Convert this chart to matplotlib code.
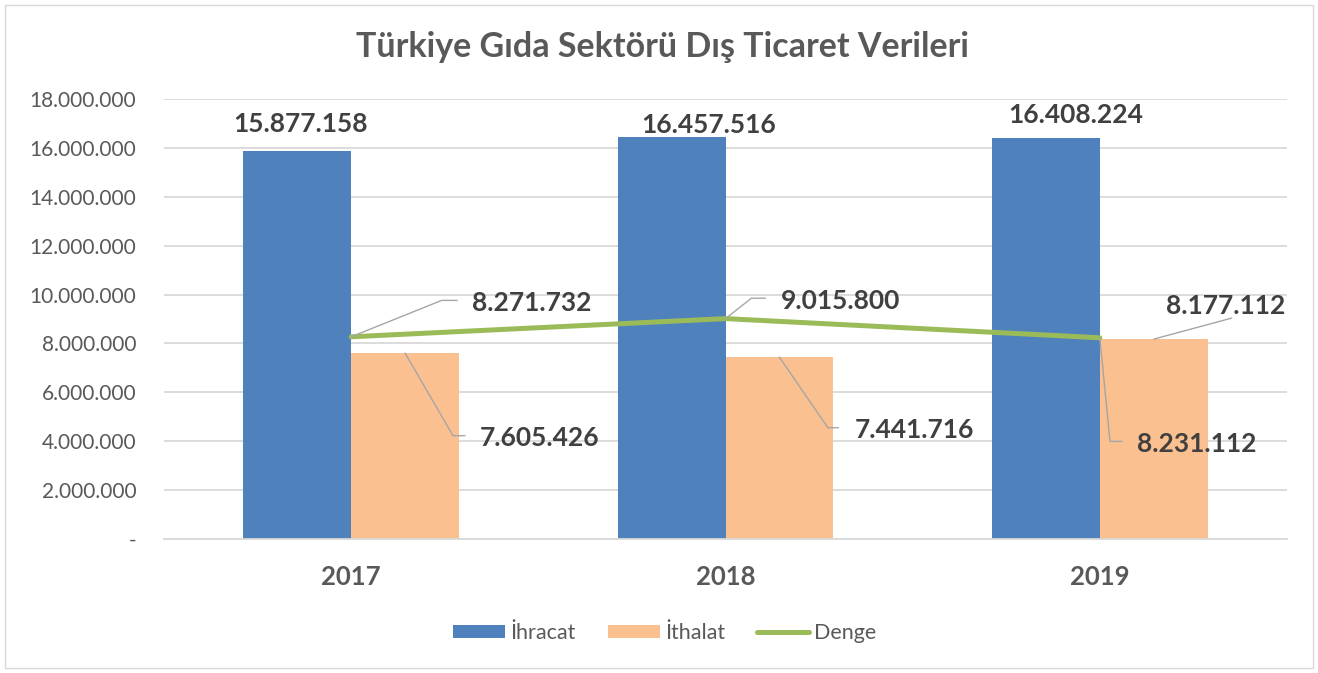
import math
import matplotlib
matplotlib.use('Agg')
import matplotlib.pyplot as plt
from matplotlib.patches import Rectangle
from matplotlib.ticker import FuncFormatter

plt.rcParams['font.family'] = ['Lato', 'DejaVu Sans']

# veriler
yillar = ['2017', '2018', '2019']
ihracat = [15877158, 16457516, 16408224]
ithalat = [7605426, 7441716, 8177112]
denge = [8271732, 9015800, 8231112]
y_ticks = [0, 2000000, 4000000, 6000000, 8000000, 10000000, 12000000, 14000000, 16000000, 18000000]

mavi = '#4f81bd'
turuncu = '#fac090'
yesil = '#9bbb59'
yazi = '#404040'
gri = '#595959'
cizgi = '#d9d9d9'


def nokta(v, pos=None):
    if v == 0:
        return '-'
    return f'{v:,.0f}'.replace(',', '.')


fig = plt.figure(figsize=(13.18, 6.73), dpi=100)
ax = fig.add_axes([164/1318, 134/673, 1123/1318, 440/673])

x = list(range(len(yillar)))
w = 0.288
b1 = ax.bar([i - w/2 for i in x], ihracat, w, color=mavi, label='İhracat', zorder=2)
b2 = ax.bar([i + w/2 for i in x], ithalat, w, color=turuncu, label='İthalat', zorder=2)
l1, = ax.plot(x, denge, color=yesil, lw=3.6, solid_capstyle='round', label='Denge', zorder=3)

ax.set_xlim(-0.5, 2.5)
ax.set_ylim(0, 18000000)
ax.set_yticks(y_ticks)
ax.yaxis.set_major_formatter(FuncFormatter(nokta))
ax.set_xticks(x, yillar)
ax.tick_params(axis='y', length=0, pad=20, labelsize=15, labelcolor=gri)
ax.tick_params(axis='x', length=0, pad=19, labelsize=18.5, labelcolor=gri)
for t in ax.get_xticklabels():
    t.set_fontweight('bold')
ax.yaxis.grid(True, color=cizgi, lw=1.3)
ax.set_axisbelow(True)
for s in ['top', 'right', 'left']:
    ax.spines[s].set_visible(False)
ax.spines['bottom'].set_color(cizgi)
ax.spines['bottom'].set_linewidth(1.3)

# ihracat etiketleri (piksel kaydırma, taban çizgisine göre)
ust_kayma = [(3, 19), (37, 4), (30, 15)]
for i, v in enumerate(ihracat):
    ax.annotate(nokta(v), (i - w/2, v), xytext=ust_kayma[i], textcoords='offset pixels',
                ha='center', va='baseline', fontsize=19, fontweight='bold', color=yazi)


def kilavuz(xy, metin, dx, dy, kx, ky, bosluk):
    aci = math.degrees(math.atan2(ky, kx))
    ax.annotate(metin, xy, xytext=(dx, dy - 2), textcoords='offset pixels',
                ha='left', va='center', fontsize=19, fontweight='bold', color=yazi,
                arrowprops=dict(arrowstyle='-', color='#a6a6a6', lw=1, relpos=(0, 0.6),
                                patchA=None, shrinkA=bosluk*0.72, shrinkB=0,
                                connectionstyle=f'angle,angleA=0,angleB={aci},rad=0'))


# denge etiketleri
kilavuz((0, denge[0]), nokta(denge[0]), 121, 36, 92, 37, 15)
kilavuz((1, denge[1]), nokta(denge[1]), 55, 20, 28, 22, 15)
kilavuz((2, denge[2]), nokta(denge[2]), 37, -104, 10, -102, 15)

# ithalat etiketleri
kilavuz((0 + w/2, ithalat[0]), nokta(ithalat[0]), 75, -83, 47, -81, 15)
kilavuz((1 + w/2, ithalat[1]), nokta(ithalat[1]), 75, -71, 48, -70, 16)
ax.annotate(nokta(ithalat[2]), (2 + w/2, ithalat[2]), xytext=(72, 33), textcoords='offset pixels',
            ha='center', va='center', fontsize=19, fontweight='bold', color=yazi,
            arrowprops=dict(arrowstyle='-', color='#a6a6a6', lw=1, relpos=(0.55, 0),
                            patchA=None, shrinkA=0, shrinkB=0))

fig.text(0.5025, 1 - 47/673, 'Türkiye Gıda Sektörü Dış Ticaret Verileri',
         ha='center', va='center', fontsize=24.5, fontweight='bold', color=gri)

ax.legend([b1, b2, l1], ['İhracat', 'İthalat', 'Denge'],
          loc='center', bbox_to_anchor=(665/1318, 1 - 633/673), bbox_transform=fig.transFigure,
          ncol=3, frameon=False, fontsize=15.5, handlelength=2.4, handleheight=0.6,
          handletextpad=0.25, columnspacing=1.5, labelcolor=gri)

fig.add_artist(Rectangle((5/1318, 5/673), 1308/1318, 663/673, transform=fig.transFigure,
                         fill=False, ec=cizgi, lw=1))

fig.savefig('out.png', dpi=100)
